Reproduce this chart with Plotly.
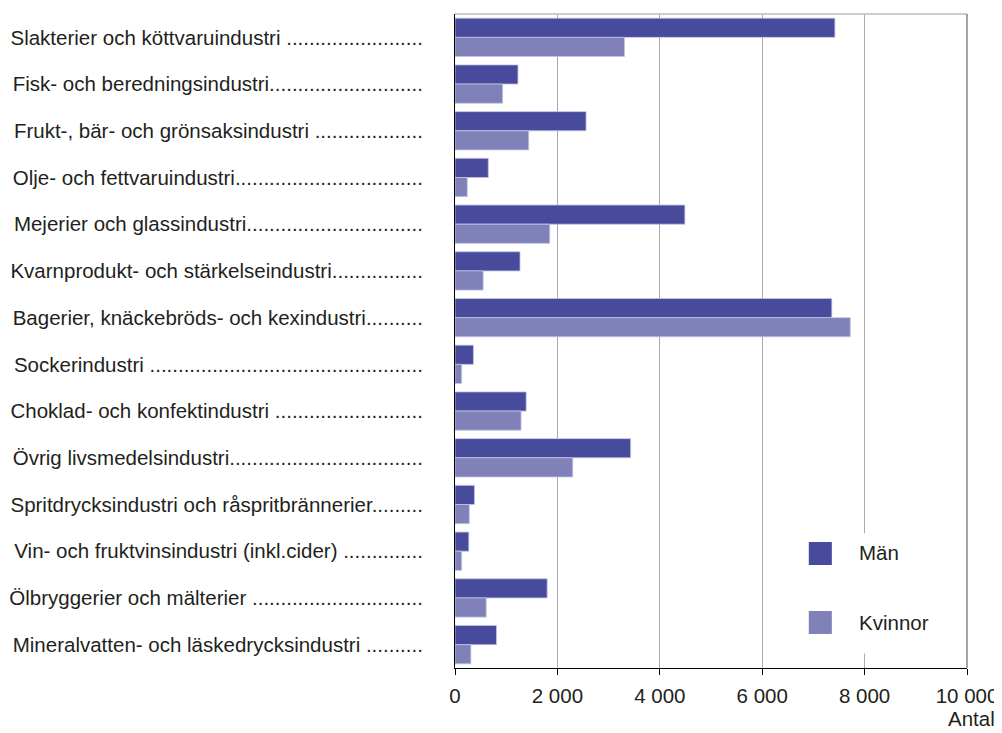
import plotly.graph_objects as go

# ---------------- data ----------------
categories = [
    "Slakterier och köttvaruindustri",
    "Fisk- och beredningsindustri",
    "Frukt-, bär- och grönsaksindustri",
    "Olje- och fettvaruindustri",
    "Mejerier och glassindustri",
    "Kvarnprodukt- och stärkelseindustri",
    "Bagerier, knäckebröds- och kexindustri",
    "Sockerindustri",
    "Choklad- och konfektindustri",
    "Övrig livsmedelsindustri",
    "Spritdrycksindustri och råspritbrännerier",
    "Vin- och fruktvinsindustri (inkl.cider)",
    "Ölbryggerier och mälterier",
    "Mineralvatten- och läskedrycksindustri",
]
leader_space = [True, False, True, False, False, False, False,
                True, True, False, False, True, True, True]

men = [7420, 1230, 2560, 650, 4490, 1270, 7360, 360, 1390, 3430, 380, 270, 1800, 810]
women = [3310, 930, 1440, 240, 1850, 550, 7720, 130, 1290, 2300, 280, 130, 610, 310]

series_names = ["Män", "Kvinnor"]
x_tickvals = [0, 2000, 4000, 6000, 8000, 10000]
x_ticktext = ["0", "2 000", "4 000", "6 000", "8 000", "10 000"]
x_title = "Antal"

# ---------------- styling ----------------
FONT = "Liberation Sans, Arial, Helvetica, sans-serif"
FS = 20.5
TXT = "#231f20"
C_MEN = "#484a9b"
C_WOMEN = "#8081b8"

# Arial / Helvetica advance widths (per 1000 em) for dot-leader fitting
W = {' ': 278, '(': 333, ')': 333, ',': 278, '-': 333, '.': 278,
     'A': 667, 'B': 667, 'C': 722, 'D': 722, 'E': 667, 'F': 611, 'G': 778,
     'H': 722, 'I': 278, 'J': 500, 'K': 667, 'L': 556, 'M': 833, 'N': 722,
     'O': 778, 'P': 667, 'Q': 778, 'R': 722, 'S': 667, 'T': 611, 'U': 722,
     'V': 667, 'W': 944, 'X': 667, 'Y': 667, 'Z': 611, 'Ö': 778,
     'a': 556, 'b': 556, 'c': 500, 'd': 556, 'e': 556, 'f': 278, 'g': 556,
     'h': 556, 'i': 222, 'j': 222, 'k': 500, 'l': 222, 'm': 833, 'n': 556,
     'o': 556, 'p': 556, 'q': 556, 'r': 333, 's': 500, 't': 278, 'u': 556,
     'v': 500, 'w': 722, 'x': 500, 'y': 500, 'z': 500,
     'ä': 556, 'ö': 556, 'å': 556}


def text_width(s):
    return sum(W.get(ch, 556) for ch in s) * FS / 1000.0


LABEL_WIDTH = 411
dot_w = W['.'] * FS / 1000.0
tick_labels = []
for name, sp in zip(categories, leader_space):
    base = name + (" " if sp else "")
    n = max(3, int(round((LABEL_WIDTH - text_width(base)) / dot_w)))
    tick_labels.append(base + "." * n)

fig = go.Figure()
for name, vals, col in [(series_names[0], men, C_MEN), (series_names[1], women, C_WOMEN)]:
    fig.add_trace(go.Bar(
        y=categories, x=vals, name=name, orientation="h",
        marker=dict(color=col, line=dict(color="#c3c4e4", width=0.8)),
        showlegend=False,
    ))

# the page body has an 8px margin, so the figure is sized to fill the rest
fig.update_layout(
    width=994, height=725,
    margin=dict(l=447, r=35, t=6, b=65, autoexpand=False),
    paper_bgcolor="white", plot_bgcolor="white",
    barmode="group", bargap=0.18, bargroupgap=0,
    font=dict(family=FONT, size=FS, color=TXT),
    showlegend=False,
)

fig.update_xaxes(
    range=[0, 10000], tickvals=x_tickvals, ticktext=x_ticktext,
    showgrid=True, gridcolor="#a9a9a9", gridwidth=1,
    zeroline=False, showline=True, linecolor="#000000", linewidth=1,
    ticks="outside", ticklen=6, tickcolor="#000000", tickwidth=1,
    ticklabelstandoff=3, automargin=False,
    tickfont=dict(family=FONT, size=FS, color=TXT),
)
fig.update_yaxes(
    categoryorder="array", categoryarray=categories,
    tickvals=categories, ticktext=tick_labels,
    autorange="reversed", showgrid=False, zeroline=False,
    showline=True, linecolor="#000000", linewidth=1,
    ticks="", ticklabelstandoff=27, automargin=False,
    tickfont=dict(family=FONT, size=FS, color=TXT),
)

# frame lines and legend
shapes = [
    dict(type="line", xref="paper", yref="paper", x0=0, x1=1, y0=1, y1=1,
         line=dict(color="#bdbdbd", width=1.5), layer="above"),
    dict(type="line", xref="paper", yref="paper", x0=1, x1=1, y0=0, y1=1,
         line=dict(color="#4d4d4d", width=1), layer="above"),
    dict(type="rect", xref="paper", yref="paper", x0=0.675, x1=0.975, y0=0.022, y1=0.206,
         fillcolor="white", line=dict(width=0), layer="above"),
    dict(type="rect", xref="paper", yref="paper", x0=0.691, x1=0.736, y0=0.1575, y1=0.1927,
         fillcolor=C_MEN, line=dict(width=0), layer="above"),
    dict(type="rect", xref="paper", yref="paper", x0=0.691, x1=0.736, y0=0.052, y1=0.0872,
         fillcolor=C_WOMEN, line=dict(width=0), layer="above"),
]
fig.update_layout(shapes=shapes)

fig.add_annotation(text=series_names[0], xref="paper", yref="paper", x=0.785, y=0.176,
                   xanchor="left", yanchor="middle", showarrow=False,
                   font=dict(family=FONT, size=FS, color=TXT))
fig.add_annotation(text=series_names[1], xref="paper", yref="paper", x=0.785, y=0.070,
                   xanchor="left", yanchor="middle", showarrow=False,
                   font=dict(family=FONT, size=FS, color=TXT))
fig.add_annotation(text=x_title, xref="paper", yref="paper", x=1.056, y=-0.0775,
                   xanchor="right", yanchor="middle", showarrow=False, borderpad=0,
                   font=dict(family=FONT, size=FS, color=TXT))

fig.write_html("out.html")
